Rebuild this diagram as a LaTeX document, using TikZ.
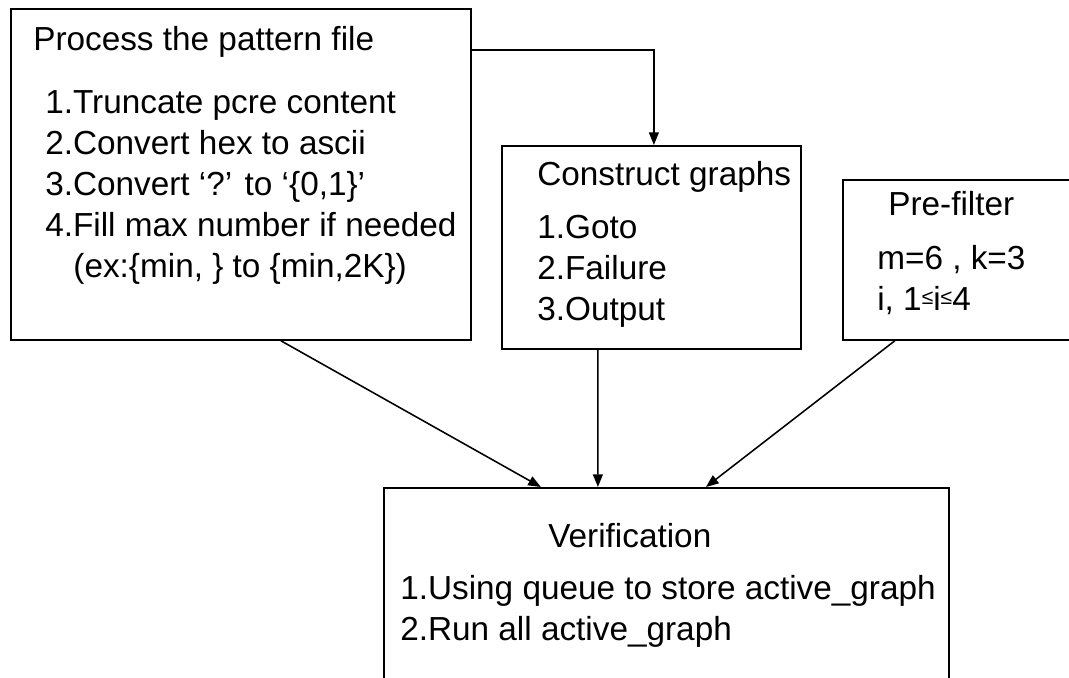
\documentclass[tikz,border=0pt]{standalone}
\usepackage{fontspec}
\setmainfont{Liberation Sans}
\usepackage{tikz}
\usetikzlibrary{calc, positioning}
\usetikzlibrary{arrows.meta}
\tikzset{
    box/.style={rectangle, draw, line width=1.2pt, inner sep=0pt, anchor=north west},
    txt/.style={inner sep=0pt, anchor=base west, align=left},
    arr/.style={-{Triangle[length=9pt, width=7pt]}, line width=1.1pt},
}
\newcommand{\lesmall}{\raisebox{4pt}{\fontsize{15}{15}\selectfont ≤}}

\begin{document}
\begin{tikzpicture}[x=0.025cm, y=-0.025cm, font=\fontsize{23.7}{29}\selectfont]
    \useasboundingbox (0,0) rectangle (1069,677);
    % boxes
    \node[box, minimum width=11.5cm, minimum height=8.275cm] (proc) at (10,8) {};
    \node[box, minimum width=7.475cm, minimum height=5.075cm] (constr) at (501,145) {};
    \node[box, minimum width=6.25cm, minimum height=4cm] (pref) at (842,179) {};
    \node[box, minimum width=14.125cm, minimum height=5.75cm] (verif) at (383,487) {};

    % texts (multi-line nodes sit on their last baseline)
    \node[txt] (proctitle) at (33,50) {Process the pattern file};
    \node[txt] (procitems) at (45,277) {1.Truncate pcre content\\2.Convert hex to ascii\\3.Convert ‘?’ to ‘\{0,1\}’\\4.Fill max number if needed\\\hspace*{20pt}(ex:\{min, \} to \{min,2K\})};
    \node[txt] (constrtitle) at (537,185) {Construct graphs};
    \node[txt] (constritems) at (537,320) {1.Goto\\2.Failure\\3.Output};
    \node[txt] (preftitle) at (888,215) {Pre-filter};
    \node[txt] (prefitems) at (877,310) {m=6 , k=3\\i, 1\lesmall i\lesmall 4};
    \node[txt] (veriftitle) at (548,547) {Verification};
    \node[txt] (verifitems) at (400,640) {1.Using queue to store active\_graph\\2.Run all active\_graph};

    % connectors
    \draw[arr] ([yshift=3.1125cm]proc.east) -| ([xshift=0.0625cm]constr.north);
    \draw[arr] ([xshift=1cm]proc.south) -- ([xshift=-3.1375cm]verif.north);
    \draw[arr] ([xshift=-1.3375cm]constr.south) -- ([xshift=-1.7125cm]verif.north);
    \draw[arr] ([xshift=-1.825cm]pref.south) -- ([xshift=0.9875cm]verif.north);
\end{tikzpicture}
\end{document}
